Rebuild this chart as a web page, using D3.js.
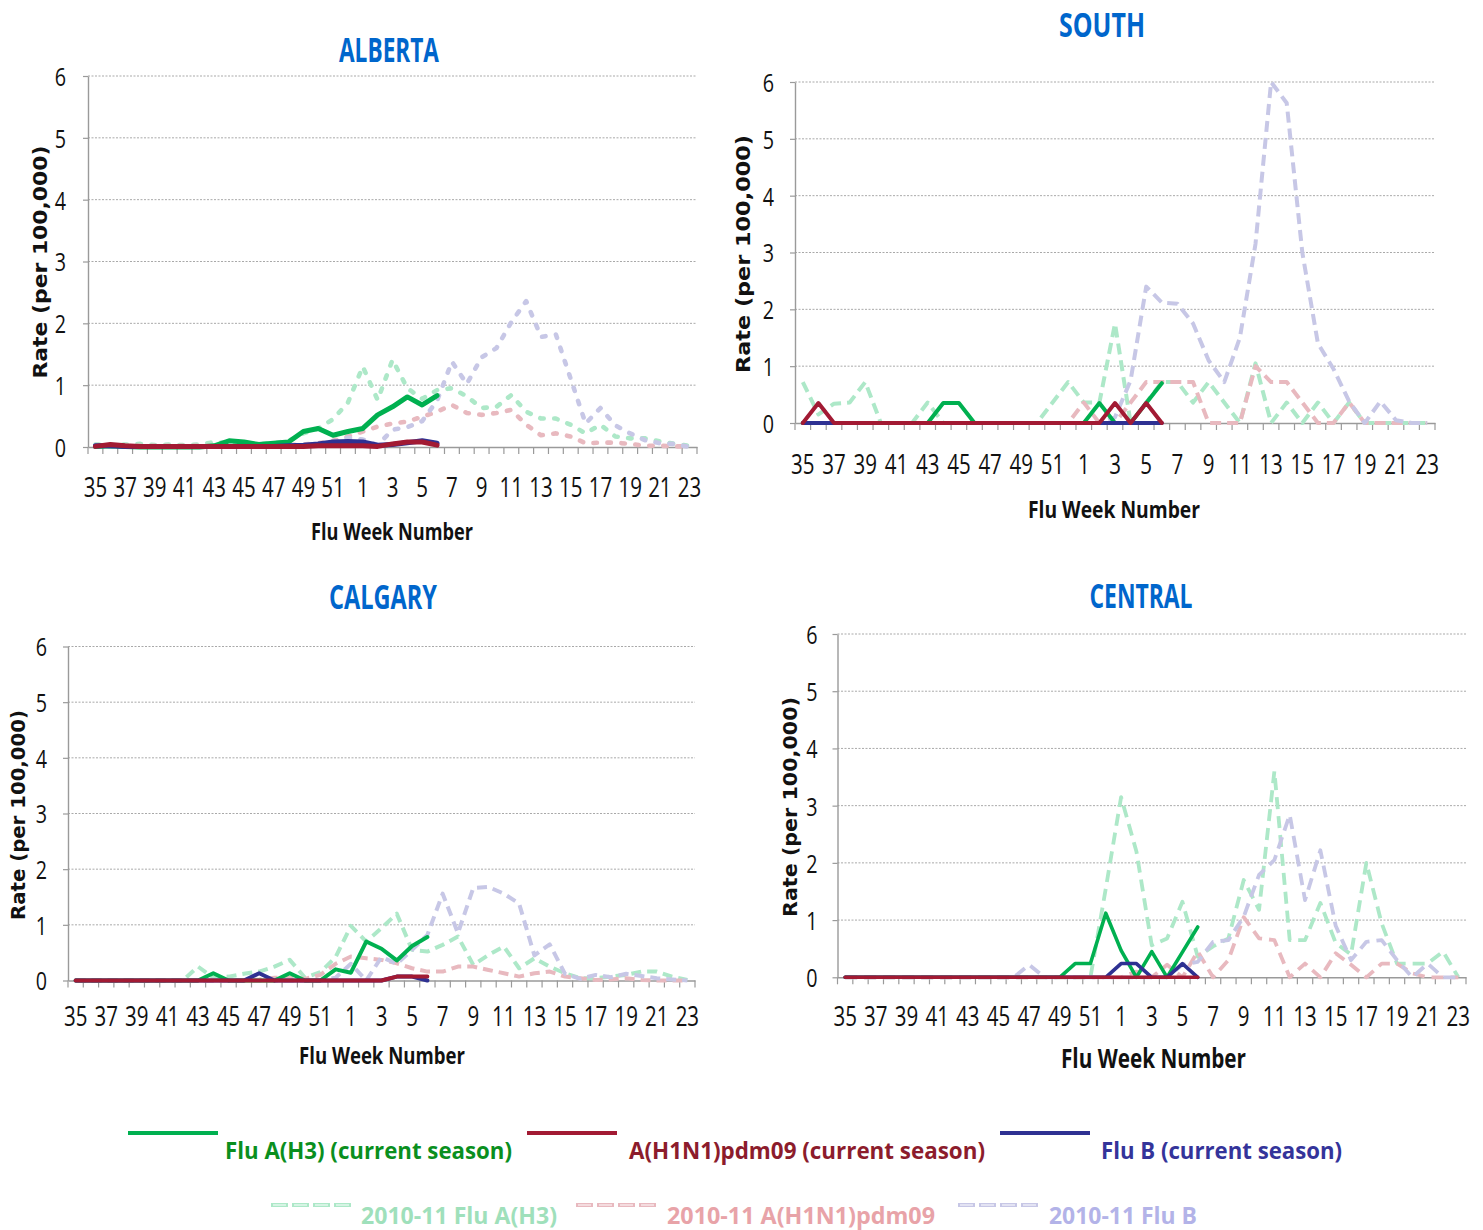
<!DOCTYPE html>
<html>
<head>
<meta charset="utf-8">
<script src="https://cdn.jsdelivr.net/npm/d3@7"></script>
<style>
  body { margin: 0; background: #fff; }
  svg text { font-family: "Open Sans", sans-serif; }
</style>
</head>
<body>
<script>
// flu weeks, 2011-12 season
var weeks = [35,36,37,38,39,40,41,42,43,44,45,46,47,48,49,50,51,52,
             1,2,3,4,5,6,7,8,9,10,11,12,13,14,15,16,17,18,19,20,21,22,23];
var tickWeeks = [35,37,39,41,43,45,47,49,51,1,3,5,7,9,11,13,15,17,19,21,23];
var yTicks = [0,1,2,3,4,5,6];

// current season (weeks 35..6)
var albertaH3   = [0.01,0.02,0.01,0,0,0,0,0,0.02,0.1,0.08,0.04,0.06,0.08,0.25,0.3,0.19,0.25, 0.3,0.52,0.65,0.81,0.68,0.83];
var albertaH1N1 = [0.01,0.04,0.02,0.01,0.01,0.01,0.01,0.01,0.01,0.01,0.01,0.01,0.01,0.01,0.01,0.02,0.02,0.02, 0.02,0.01,0.05,0.08,0.08,0.03];
var albertaB    = [0.02,0.02,0.01,0.01,0.01,0.01,0.01,0.01,0.01,0.01,0.01,0.01,0.01,0.02,0.03,0.05,0.08,0.09, 0.08,0.03,0.04,0.07,0.1,0.06];

var southH3   = [0,0,0,0,0,0,0,0,0,0.35,0.35,0,0,0,0,0,0,0, 0,0.35,0,0,0.35,0.7];
var southH1N1 = [0,0.35,0,0,0,0,0,0,0,0,0,0,0,0,0,0,0,0, 0,0,0.35,0,0.35,0];
var southB    = [0,0,0,0,0,0,0,0,0,0,0,0,0,0,0,0,0,0, 0,0,0,0,0,0];

var calgaryH3   = [0,0,0,0,0,0,0,0,0,0.13,0,0,0,0,0.13,0,0,0.2, 0.14,0.7,0.57,0.36,0.62,0.78];
var calgaryH1N1 = [0,0,0,0,0,0,0,0,0,0,0,0,0,0,0,0,0,0, 0,0,0,0.07,0.07,0.07];
var calgaryB    = [0,0,0,0,0,0,0,0,0,0,0,0,0.13,0,0,0,0,0, 0,0,0,0.07,0.07,0];

var centralH3   = [0,0,0,0,0,0,0,0,0,0,0,0,0,0,0,0.24,0.24,1.12, 0.47,0,0.45,0,0.44,0.88];
var centralH1N1 = [0,0,0,0,0,0,0,0,0,0,0,0,0,0,0,0,0,0, 0,0,0,0,0,0];
var centralB    = [0,0,0,0,0,0,0,0,0,0,0,0,0,0,0,0,0,0, 0.24,0.24,0,0,0.24,0];

// 2010-11 season (weeks 35..23)
var albertaH3Prev   = [0.04,0.03,0.04,0.05,0.03,0.04,0.03,0.04,0.08,0.06,0.06,0.05,0.06,0.1,0.22,0.3,0.45,0.72,
                       1.3,0.76,1.41,0.95,0.78,0.92,0.95,0.82,0.63,0.65,0.84,0.57,0.46,0.46,0.36,0.22,0.36,0.17,0.14,0.14,0.09,0.05,0.02];
var albertaH1N1Prev = [0.02,0.02,0.02,0.02,0.02,0.02,0.02,0.02,0.02,0.02,0.02,0.02,0.02,0.03,0.04,0.06,0.1,0.17,
                       0.25,0.33,0.38,0.41,0.49,0.57,0.68,0.55,0.52,0.55,0.6,0.36,0.19,0.22,0.17,0.06,0.07,0.07,0.05,0.02,0.02,0.01,0.01];
var albertaBPrev    = [0.01,0.01,0.01,0.01,0.01,0.01,0.01,0.01,0.01,0.01,0.01,0.01,0.01,0.02,0.02,0.04,0.08,0.15,
                       0.12,0.03,0.28,0.32,0.42,0.75,1.38,1.02,1.45,1.6,2.02,2.36,1.78,1.82,1.1,0.38,0.63,0.35,0.22,0.11,0.06,0.05,0];

var southH3Prev   = [0.72,0.15,0.34,0.36,0.72,0,0,0,0.36,0,0,0,0,0,0,0,0.36,0.72,
                     0.36,0.36,1.75,0,0.36,0.72,0.72,0.36,0.72,0.36,0,1.05,0,0.36,0,0.36,0,0.36,0,0,0,0,0];
var southH1N1Prev = [0,0,0,0,0,0,0,0,0,0,0,0,0,0,0,0,0,0,
                     0.36,0,0,0.36,0.72,0.72,0.72,0.72,0,0,0,1.0,0.72,0.72,0.36,0,0,0.36,0,0,0,0,0];
var southBPrev    = [0,0,0,0,0,0,0,0,0,0,0,0,0,0,0,0,0,0,
                     0,0,0.1,0.75,2.4,2.12,2.1,1.75,1.1,0.72,1.5,3.15,6.0,5.63,3.0,1.4,0.95,0.38,0,0.38,0.05,0,0];

var calgaryH3Prev   = [0,0,0,0,0,0,0,0,0.25,0.05,0.07,0.12,0.16,0.25,0.37,0.05,0.15,0.42,
                       0.98,0.7,0.94,1.2,0.55,0.52,0.64,0.79,0.28,0.46,0.61,0.22,0.4,0.25,0.13,0.04,0.04,0.07,0.1,0.16,0.16,0.07,0.01];
var calgaryH1N1Prev = [0,0,0,0,0,0,0,0,0,0,0,0,0.02,0.05,0.05,0.03,0.1,0.3,
                       0.43,0.4,0.37,0.31,0.22,0.16,0.16,0.25,0.25,0.19,0.13,0.07,0.13,0.16,0.07,0.04,0.01,0.02,0.04,0.01,0,0,0];
var calgaryBPrev    = [0,0,0,0,0,0,0,0,0,0,0,0,0,0,0,0,0,0.05,
                       0.3,0,0.42,0.3,0.55,0.82,1.56,0.85,1.66,1.68,1.56,1.38,0.45,0.65,0.12,0.03,0.1,0.06,0.12,0.08,0.04,0.02,0];

var centralH3Prev   = [0,0,0,0,0,0,0,0,0,0,0,0,0,0,0,0,0,1.55,
                       3.15,2.2,0.56,0.68,1.32,0.36,0.54,0.68,1.7,1.18,3.6,0.65,0.65,1.3,0.6,0.4,2.0,0.94,0.24,0.24,0.24,0.45,0];
var centralH1N1Prev = [0,0,0,0,0,0,0,0,0,0,0,0,0,0,0,0,0,0,
                       0,0.1,0,0.22,0,0.45,0,0.3,1.05,0.68,0.65,0,0.24,0,0.42,0.22,0,0.24,0.24,0.07,0,0,0];
var centralBPrev    = [0,0,0,0,0,0,0,0,0,0,0,0,0.22,0,0,0,0,0,
                       0,0,0,0,0.22,0.27,0.62,0.65,1.06,1.79,2.05,2.84,1.35,2.22,0.9,0.3,0.62,0.65,0.3,0,0.24,0,0];

var legendLabels = ["Flu A(H3) (current season)", "A(H1N1)pdm09 (current season)", "Flu B (current season)",
                    "2010-11 Flu A(H3)", "2010-11 A(H1N1)pdm09", "2010-11 Flu B"];

var curColors  = ["#00b050", "#a21a33", "#2e3192"];       // H3, H1N1, B
var prevColors = ["#ade8c8", "#e8b9bf", "#c7c7e6"];
var legendText = ["#0a8f1e", "#8c1c2c", "#34349a", "#9fe0bb", "#e8a3a8", "#b3b3e8"];

var panels = [
  {title: "ALBERTA", cur: [albertaH3, albertaH1N1, albertaB], prev: [albertaH3Prev, albertaH1N1Prev, albertaBPrev],
   x0: 88, x1: 697, yTop: 76, yBot: 447, tx: 389, ty: 62, tw: 100,
   xtX: 311, xtY: 540, xtW: 162, xtS: 24, ytX: 40, ytY: 262, ytW: 233,
   labDy: 40, yOff: 22, curW: 5, prevW: 4.6, dash: "3.5,10.5", cap: "round"},
  {title: "SOUTH", cur: [southH3, southH1N1, southB], prev: [southH3Prev, southH1N1Prev, southBPrev],
   x0: 795, x1: 1435, yTop: 82, yBot: 423, tx: 1102, ty: 37, tw: 86,
   xtX: 1028, xtY: 518, xtW: 172, xtS: 24, ytX: 743, ytY: 254, ytW: 238,
   labDy: 41, yOff: 21, curW: 4, prevW: 4, dash: "11,6", cap: "butt"},
  {title: "CALGARY", cur: [calgaryH3, calgaryH1N1, calgaryB], prev: [calgaryH3Prev, calgaryH1N1Prev, calgaryBPrev],
   x0: 68, x1: 695, yTop: 646.5, yBot: 980.5, tx: 383, ty: 609, tw: 108,
   xtX: 299, xtY: 1064, xtW: 166, xtS: 23, ytX: 18, ytY: 815, ytW: 210,
   labDy: 36, yOff: 21, curW: 4, prevW: 4, dash: "10,6", cap: "butt"},
  {title: "CENTRAL", cur: [centralH3, centralH1N1, centralB], prev: [centralH3Prev, centralH1N1Prev, centralBPrev],
   x0: 837.5, x1: 1466, yTop: 634, yBot: 977.3, tx: 1141, ty: 608, tw: 103,
   xtX: 1061, xtY: 1068, xtW: 185, xtS: 26, ytX: 790, ytY: 807, ytW: 220,
   labDy: 38.5, yOff: 20, curW: 3.6, prevW: 3.8, dash: "12,7", cap: "butt"}
];

var sx = 0.76; // horizontal squeeze of tick digits

var svg = d3.select("body").append("svg")
            .attr("width", 1483)
            .attr("height", 1230);

panels.forEach(function(p) {
  var x = d3.scaleBand().domain(weeks).range([p.x0, p.x1]);
  var y = d3.scaleLinear().domain([0, 6]).range([p.yBot, p.yTop]);
  var g = svg.append("g");

  // gridlines
  g.selectAll("line.grid").data(yTicks.slice(1)).enter().append("line")
    .attr("class", "grid")
    .attr("x1", p.x0).attr("x2", p.x1)
    .attr("y1", function(d) { return y(d); })
    .attr("y2", function(d) { return y(d); })
    .attr("stroke", "#a9a9a9").attr("stroke-width", 1)
    .attr("stroke-dasharray", "2,1.5");

  // y axis
  var ya = g.append("g").attr("transform", "translate(" + p.x0 + ",0)")
    .call(d3.axisLeft(y).tickValues(yTicks).tickSize(5).tickSizeOuter(0).tickFormat(d3.format("d")));
  ya.select(".domain").attr("stroke", "#9a9a9a").attr("stroke-width", 1.4);
  ya.selectAll(".tick line").attr("stroke", "#9a9a9a").attr("stroke-width", 1.2);
  ya.selectAll(".tick text")
    .attr("x", -p.yOff / sx).attr("dy", "0.36em")
    .attr("transform", "scale(" + sx + ",1)")
    .style("font-size", "26px").style("font-family", "'Open Sans', sans-serif").attr("fill", "#111");

  // x axis
  var xa = g.append("g").attr("transform", "translate(0," + p.yBot + ")")
    .call(d3.axisBottom(x).tickValues(tickWeeks).tickSize(0).tickSizeOuter(0));
  xa.select(".domain").attr("stroke", "#9a9a9a").attr("stroke-width", 1.4);
  xa.selectAll(".tick text")
    .attr("y", p.labDy).attr("dy", "0.36em")
    .attr("transform", "scale(" + sx + ",1)")
    .style("font-size", "27px").style("font-family", "'Open Sans', sans-serif").attr("fill", "#111");
  xa.selectAll(".tick text").attr("x", 0);
  // tick marks at category boundaries
  xa.selectAll("line.edge").data(weeks.concat(["end"])).enter().append("line")
    .attr("class", "edge")
    .attr("x1", function(d) { return d === "end" ? p.x1 : x(d); })
    .attr("x2", function(d) { return d === "end" ? p.x1 : x(d); })
    .attr("y1", 0).attr("y2", 7)
    .attr("stroke", "#9a9a9a").attr("stroke-width", 1.2);

  var line = d3.line()
    .x(function(d, i) { return x(weeks[i]) + x.bandwidth() / 2; })
    .y(function(d) { return y(d); });

  // last season, dashed
  p.prev.forEach(function(s, k) {
    g.append("path").datum(s)
      .attr("d", line)
      .attr("fill", "none")
      .attr("stroke", prevColors[k])
      .attr("stroke-width", p.prevW)
      .attr("stroke-dasharray", p.dash)
      .attr("stroke-linecap", p.cap)
      .attr("stroke-linejoin", "round");
  });

  // current season: H3, B, then H1N1 on top
  [0, 2, 1].forEach(function(k) {
    g.append("path").datum(p.cur[k])
      .attr("d", line)
      .attr("fill", "none")
      .attr("stroke", curColors[k])
      .attr("stroke-width", p.curW)
      .attr("stroke-linejoin", "round")
      .attr("stroke-linecap", "round");
  });

  // titles
  g.append("text").attr("x", p.tx).attr("y", p.ty)
    .attr("text-anchor", "middle")
    .attr("textLength", p.tw).attr("lengthAdjust", "spacingAndGlyphs")
    .style("font-size", "34px").style("font-weight", "bold")
    .attr("fill", "#0066cc").text(p.title);

  g.append("text").attr("x", p.xtX).attr("y", p.xtY)
    .attr("textLength", p.xtW).attr("lengthAdjust", "spacingAndGlyphs")
    .style("font-size", p.xtS + "px").style("font-weight", "bold")
    .attr("fill", "#111").text("Flu Week Number");

  g.append("text")
    .attr("transform", "translate(" + (p.ytX + 7) + "," + p.ytY + ") rotate(-90)")
    .attr("text-anchor", "middle")
    .attr("textLength", p.ytW).attr("lengthAdjust", "spacingAndGlyphs")
    .style("font-family", "'DejaVu Sans', sans-serif")
    .style("font-size", "20px").style("font-weight", "bold")
    .attr("fill", "#111").text("Rate (per 100,000)");
});

// legend
var legendRows = [
  {y: 1133, ty: 1159, size: 24, items: [[128, 218, 225, 287], [527, 617, 629, 356], [1000, 1090, 1101, 241]]},
  {y: 1205, ty: 1224, size: 23, items: [[271, 354, 361, 196], [576, 659, 667, 268], [958, 1042, 1049, 148]]}
];
legendRows.forEach(function(r, ri) {
  r.items.forEach(function(it, k) {
    var idx = ri * 3 + k;
    var lg = svg.append("g");
    if (ri === 0) {
      lg.append("line").attr("x1", it[0]).attr("x2", it[1]).attr("y1", r.y).attr("y2", r.y)
        .attr("stroke", curColors[k]).attr("stroke-width", 4);
    } else {
      lg.append("line").attr("x1", it[0]).attr("x2", it[1]).attr("y1", r.y).attr("y2", r.y)
        .attr("stroke", prevColors[k]).attr("stroke-width", 4)
        .attr("stroke-dasharray", "17,4");
      lg.append("line").attr("x1", it[0] + 2).attr("x2", it[1]).attr("y1", r.y).attr("y2", r.y)
        .attr("stroke", "#fff").attr("stroke-width", 1.2)
        .attr("stroke-dasharray", "13,8");
    }
    lg.append("text").attr("x", it[2]).attr("y", r.ty)
      .attr("textLength", it[3]).attr("lengthAdjust", "spacingAndGlyphs")
      .style("font-size", r.size + "px").style("font-weight", "bold")
      .attr("fill", legendText[idx]).text(legendLabels[idx]);
  });
});
</script>
</body>
</html>
